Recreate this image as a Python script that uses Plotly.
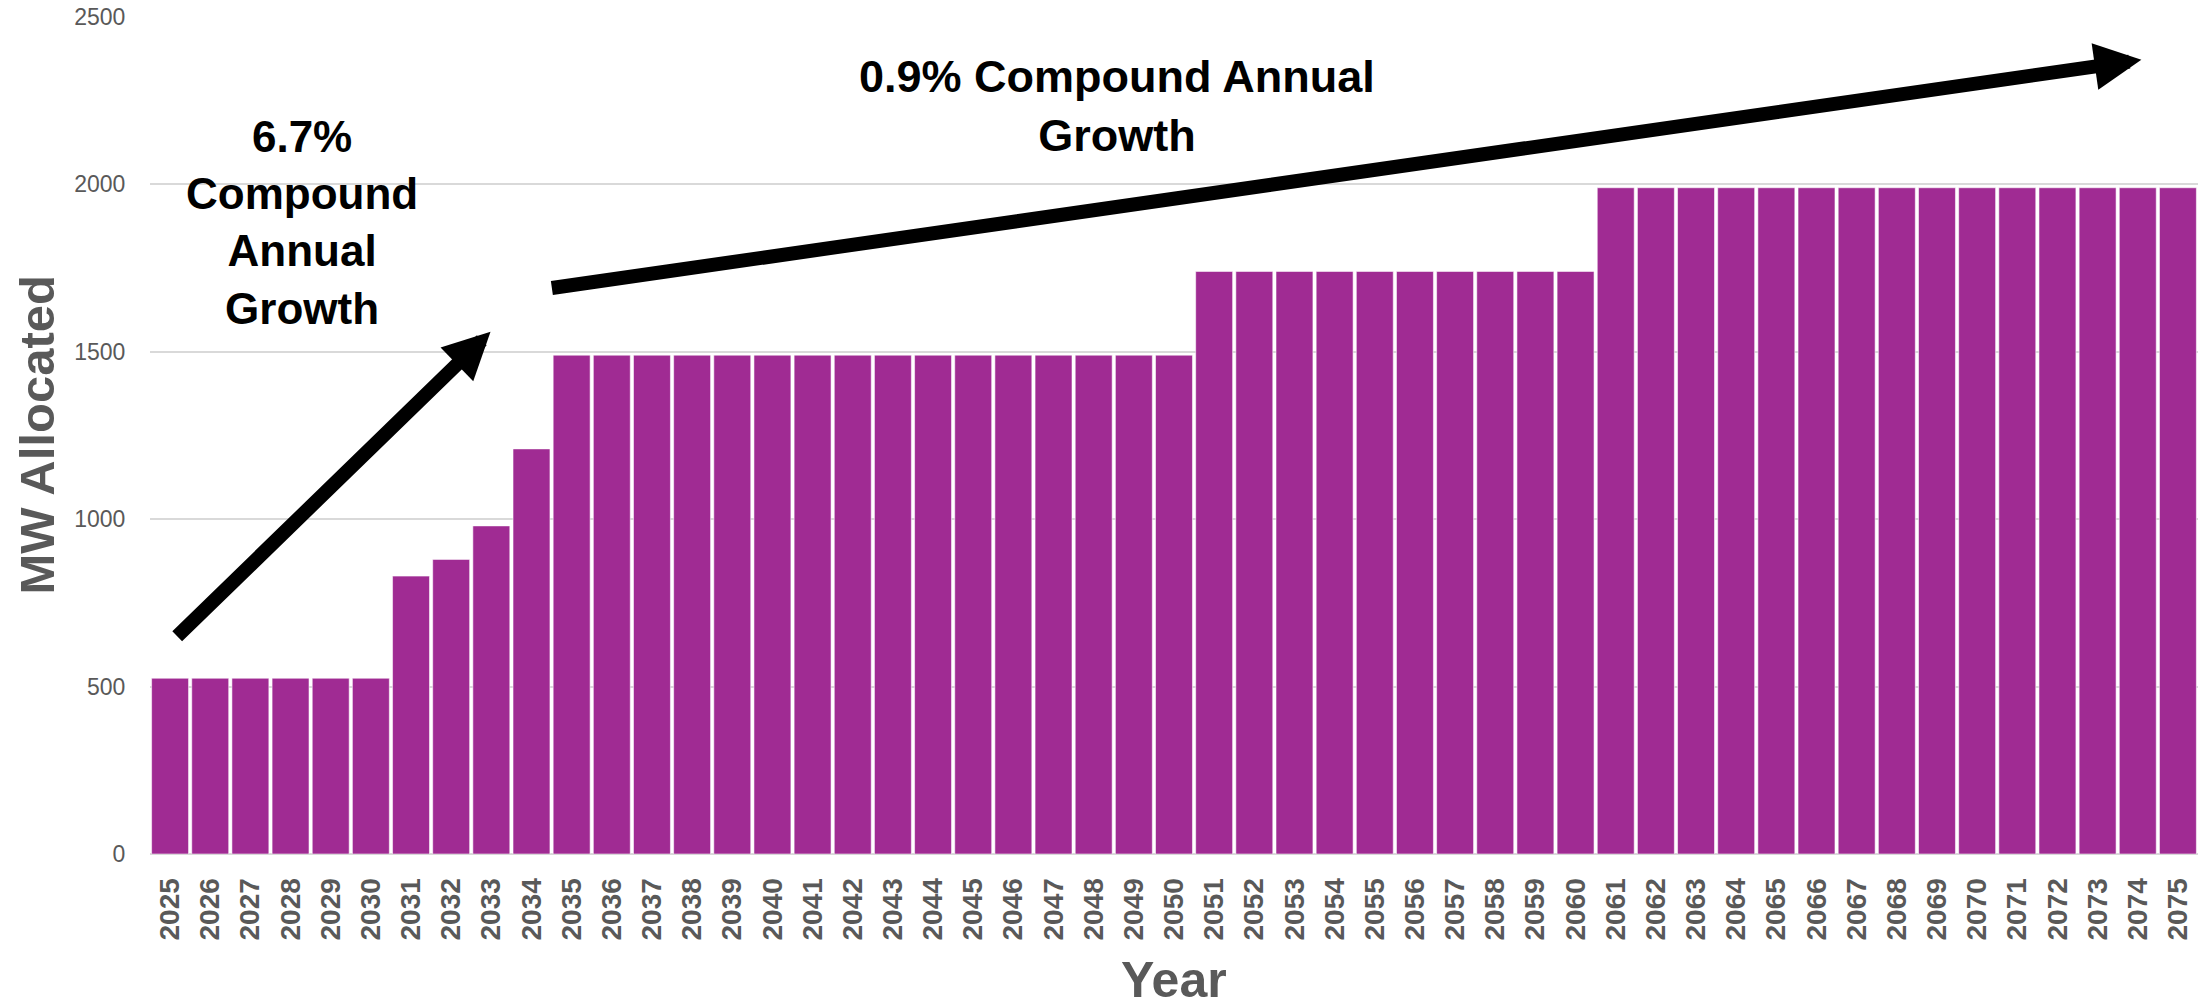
import plotly.graph_objects as go

# ---- data ----
years = list(range(2025, 2076))
mw_allocated = [
    525, 525, 525, 525, 525, 525,          # 2025-2030
    830, 880, 980, 1210,                   # 2031-2034
    1490, 1490, 1490, 1490, 1490, 1490, 1490, 1490,   # 2035-2042
    1490, 1490, 1490, 1490, 1490, 1490, 1490, 1490,   # 2043-2050
    1740, 1740, 1740, 1740, 1740, 1740, 1740, 1740, 1740, 1740,  # 2051-2060
    1990, 1990, 1990, 1990, 1990, 1990, 1990, 1990,   # 2061-2068
    1990, 1990, 1990, 1990, 1990, 1990, 1990,         # 2069-2075
]
y_ticks = [0, 500, 1000, 1500, 2000, 2500]
tick_labels = [str(y) for y in years]

y_title = "MW Allocated"
x_title = "Year"
note_left = "6.7%<br>Compound<br>Annual<br>Growth"
note_right = "0.9% Compound Annual<br>Growth"

# arrow endpoints in data coordinates (tail -> tip)
arrow_left = dict(tail=(2025.14, 646), tip=(2032.98, 1560))
arrow_right = dict(tail=(2034.47, 1690), tip=(2074.09, 2372))

FONT = "Liberation Sans, Arial, sans-serif"
GRAY = "#595959"
BAR = "#A02B93"

fig = go.Figure()
fig.add_trace(go.Bar(
    x=years, y=mw_allocated,
    marker=dict(color=BAR, line=dict(color="rgba(255,255,255,0.55)", width=1)),
    hoverinfo="x+y",
))

annotations = []
for arr in (arrow_left, arrow_right):
    annotations.append(dict(
        x=arr["tip"][0], y=arr["tip"][1], xref="x", yref="y",
        ax=arr["tail"][0], ay=arr["tail"][1], axref="x", ayref="y",
        text="", showarrow=True, arrowhead=2, arrowsize=0.67,
        arrowwidth=14, arrowcolor="#000000", standoff=0, startstandoff=0,
        font=dict(size=1),
    ))

annotations += [
    dict(x=(302 - 150) / 2048, y=(854 - 223) / 837, xref="paper", yref="paper",
         text=note_left, showarrow=False, xanchor="center", yanchor="middle",
         font=dict(family=FONT, size=44, color="#000000", weight="bold")),
    dict(x=(1117 - 150) / 2048, y=(854 - 106) / 837, xref="paper", yref="paper",
         text=note_right, showarrow=False, xanchor="center", yanchor="middle",
         font=dict(family=FONT, size=45, color="#000000", weight="bold")),
    dict(x=(36 - 150) / 2048, y=0.5, xref="paper", yref="paper",
         text=y_title, textangle=-90, showarrow=False,
         xanchor="center", yanchor="middle",
         font=dict(family=FONT, size=49, color=GRAY, weight="bold")),
    dict(x=0.5, y=(854 - 980) / 837, xref="paper", yref="paper",
         text=x_title, showarrow=False, xanchor="center", yanchor="middle",
         font=dict(family=FONT, size=50, color=GRAY, weight="bold")),
]

fig.update_layout(
    width=2202, height=1007, autosize=False,
    margin=dict(l=150, r=4, t=17, b=153),
    paper_bgcolor="white", plot_bgcolor="white",
    bargap=0.08, showlegend=False,
    annotations=annotations,
    font=dict(family=FONT, color=GRAY),
)
fig.update_xaxes(
    range=[2024.5, 2075.5], tickmode="array", tickvals=years, ticktext=tick_labels,
    tickangle=-90, tickfont=dict(family=FONT, size=28, color=GRAY, weight="bold"),
    showgrid=False, zeroline=False, showline=False,
    ticks="outside", ticklen=12, tickcolor="rgba(0,0,0,0)",
)
fig.update_yaxes(
    range=[0, 2500], tickmode="array", tickvals=y_ticks,
    tickfont=dict(family=FONT, size=23, color=GRAY),
    showgrid=True, gridcolor="#D9D9D9", gridwidth=1.5,
    zeroline=True, zerolinecolor="#D9D9D9", zerolinewidth=1.5, showline=False,
    ticks="outside", ticklen=19, tickcolor="rgba(0,0,0,0)",
)

fig.write_html("out.html")
